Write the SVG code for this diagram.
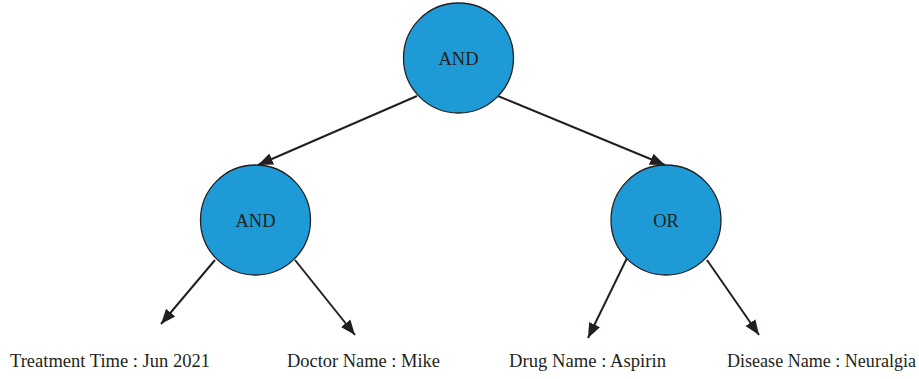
<svg xmlns="http://www.w3.org/2000/svg" width="919" height="379" viewBox="0 0 919 379">
  <style>
    .node circle { fill: #1e9bd7; stroke: #231f20; stroke-width: 1.3; }
    .node text { font-family: "Liberation Serif", "Times New Roman", serif; font-size: 18.5px; fill: #231f20; text-anchor: middle; }
    .leaf { font-family: "Liberation Serif", "Times New Roman", serif; font-size: 18.5px; fill: #231f20; }
    .edge { stroke: #231f20; stroke-width: 2; fill: none; marker-end: url(#arrow); }
  </style>
  <defs>
    <marker id="arrow" markerUnits="userSpaceOnUse" markerWidth="16" markerHeight="14" viewBox="0 0 16 14" refX="15" refY="7" orient="auto">
      <path d="M0,1 L15,7 L0,13 Z" fill="#231f20"/>
    </marker>
  </defs>
  <rect width="919" height="379" fill="#ffffff"/>

  <g id="connectors">
    <line class="edge" x1="417" y1="96" x2="258" y2="165"/>
    <line class="edge" x1="498" y1="96" x2="665" y2="165"/>
    <line class="edge" x1="215" y1="260" x2="161" y2="324"/>
    <line class="edge" x1="295" y1="260" x2="355" y2="335"/>
    <line class="edge" x1="627" y1="258" x2="588" y2="338"/>
    <line class="edge" x1="707" y1="260" x2="759" y2="335"/>
  </g>

  <g id="root-and" class="node">
    <circle cx="458.5" cy="58" r="55"/>
    <text x="458.5" y="64.5">AND</text>
  </g>
  <g id="left-and" class="node">
    <circle cx="255.5" cy="220" r="55"/>
    <text x="255.5" y="226.5">AND</text>
  </g>
  <g id="right-or" class="node">
    <circle cx="666" cy="220" r="55"/>
    <text x="666" y="226.5">OR</text>
  </g>

  <g id="leaf-treatment-time">
    <text class="leaf" x="10" y="367" textLength="200" lengthAdjust="spacingAndGlyphs">Treatment Time : Jun 2021</text>
  </g>
  <g id="leaf-doctor-name">
    <text class="leaf" x="287" y="367" textLength="153" lengthAdjust="spacingAndGlyphs">Doctor Name : Mike</text>
  </g>
  <g id="leaf-drug-name">
    <text class="leaf" x="509" y="367" textLength="157" lengthAdjust="spacingAndGlyphs">Drug Name : Aspirin</text>
  </g>
  <g id="leaf-disease-name">
    <text class="leaf" x="727" y="367" textLength="189" lengthAdjust="spacingAndGlyphs">Disease Name : Neuralgia</text>
  </g>
</svg>
